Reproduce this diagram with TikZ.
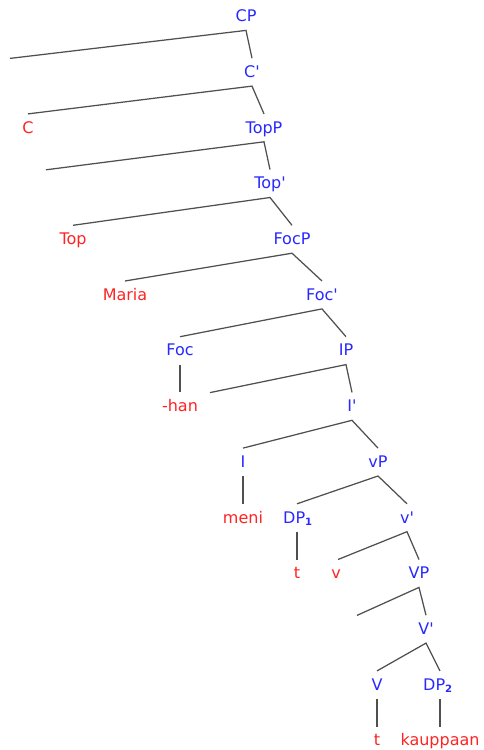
\documentclass[tikz,border=0pt]{standalone}
\usepackage{fontspec}
\setmainfont{DejaVu Sans}
\definecolor{catblue}{RGB}{40,40,255}
\definecolor{wordred}{RGB}{255,35,35}
\definecolor{edgegray}{RGB}{80,80,80}
\newcommand{\sbs}[1]{\raisebox{-2.5pt}{\fontsize{10}{10}\selectfont\bfseries #1}}
\begin{document}
\begin{tikzpicture}[x=1pt,y=-1pt,
  lab/.style={anchor=base,inner xsep=0pt,inner ysep=5.5pt,text height=13.5pt,text depth=3pt,font=\fontsize{16}{19}\selectfont},
  cat/.style={lab,text=catblue},
  word/.style={lab,text=wordred},
  edge/.style={draw=edgegray,line width=1.25pt}]
\useasboundingbox (0,0) rectangle (483,750);
% labels (baselines)
\node[cat] (cp) at (246,21.7) {CP};
\node[cat] (cbar) at (252,77.4) {C\textquotesingle};
\node[word] (c) at (28,133.1) {C};
\node[cat] (topp) at (264,133.1) {TopP};
\node[cat] (topbar) at (270,188.8) {Top\textquotesingle};
\node[word] (top) at (73,244.5) {Top};
\node[cat] (focp) at (292,244.5) {FocP};
\node[word] (maria) at (125,300.2) {Maria};
\node[cat] (focbar) at (322,300.2) {Foc\textquotesingle};
\node[cat] (foc) at (180,355.9) {Foc};
\node[cat] (ip) at (346,355.9) {IP};
\node[word] (han) at (180,411.6) {-han};
\node[cat] (ibar) at (352,411.6) {I\textquotesingle};
\node[cat] (i) at (243,467.3) {I};
\node[cat] (vp) at (378,467.3) {vP};
\node[word] (meni) at (243,523) {meni};
\node[cat,anchor=base west] (dpone) at (283,523) {DP\sbs{1}};
\node[cat] (vbar) at (407,523) {v\textquotesingle};
\node[word] (tone) at (297,578.7) {t};
\node[word] (v) at (336,578.7) {v};
\node[cat] (bigvp) at (419,578.7) {VP};
\node[cat] (bigvbar) at (426,634.4) {V\textquotesingle};
\node[cat] (bigv) at (377,690.1) {V};
\node[cat,anchor=base west] (dptwo) at (423,690.1) {DP\sbs{2}};
\node[word] (ttwo) at (377,745.8) {t};
\node[word] (kauppaan) at (440,745.8) {kauppaan};
% empty left daughters
\coordinate (e1) at (10,58.4);
\coordinate (e2) at (46,169.8);
\coordinate (e3) at (210,392.6);
\coordinate (e4) at (357,615.4);
% branches
\draw[edge] (e1) -- (cp.south) -- (cbar.north);
\draw[edge] (c.north) -- (cbar.south) -- (topp.north);
\draw[edge] (e2) -- (topp.south) -- (topbar.north);
\draw[edge] (top.north) -- (topbar.south) -- (focp.north);
\draw[edge] (maria.north) -- (focp.south) -- (focbar.north);
\draw[edge] (foc.north) -- (focbar.south) -- (ip.north);
\draw[edge] (foc.south) -- (han.north);
\draw[edge] (e3) -- (ip.south) -- (ibar.north);
\draw[edge] (i.north) -- (ibar.south) -- (vp.north);
\draw[edge] (i.south) -- (meni.north);
\draw[edge] (dpone.north-|tone.north) -- (vp.south) -- (vbar.north);
\draw[edge] (dpone.south-|tone.north) -- (tone.north);
\draw[edge] ([xshift=2pt]v.north) -- (vbar.south) -- (bigvp.north);
\draw[edge] (e4) -- (bigvp.south) -- (bigvbar.north);
\draw[edge] (bigv.north) -- (bigvbar.south) -- (dptwo.north-|kauppaan.north);
\draw[edge] (bigv.south) -- (ttwo.north);
\draw[edge] (dptwo.south-|kauppaan.north) -- (kauppaan.north);
\end{tikzpicture}
\end{document}
